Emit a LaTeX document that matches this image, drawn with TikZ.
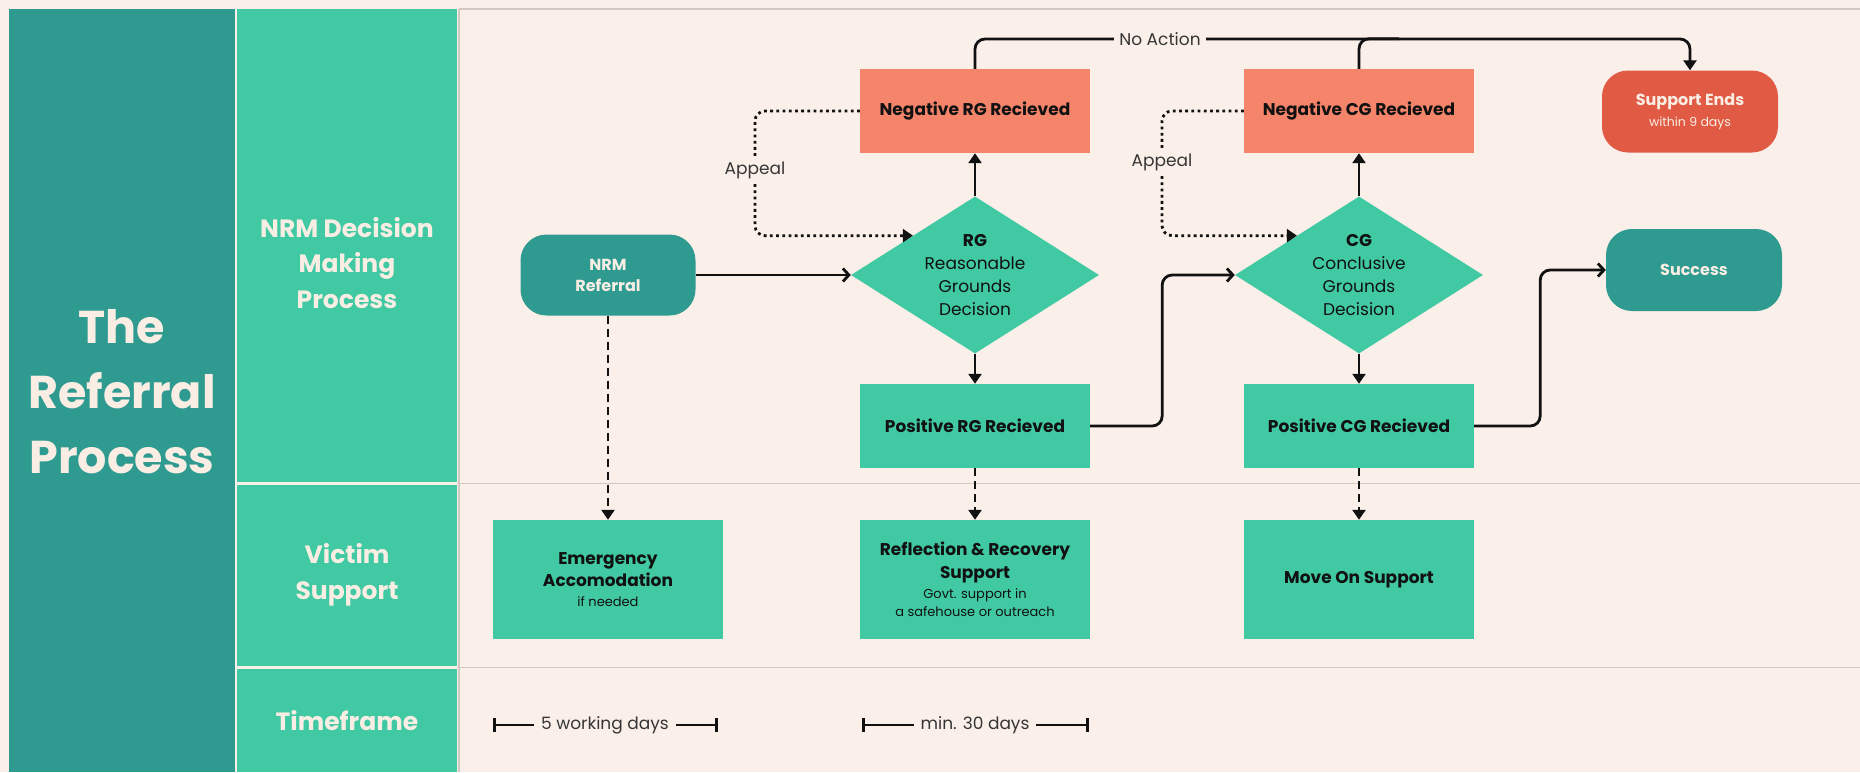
\documentclass[tikz,border=0pt]{standalone}
\usepackage{fontspec}
\setmainfont{Poppins}
\usetikzlibrary{positioning,arrows.meta,shapes.geometric,calc}
\definecolor{cream}{HTML}{FBF0E9}
\definecolor{creamText}{HTML}{FAEEE4}
\definecolor{darkTeal}{HTML}{2E9A90}
\definecolor{mint}{HTML}{40C9A2}
\definecolor{salmon}{HTML}{F4846A}
\definecolor{coral}{HTML}{E05A44}
\definecolor{ink}{HTML}{111111}
\definecolor{gridGrey}{HTML}{D2C7C1}

\begin{document}
\begin{tikzpicture}[
    x=1pt, y=-1pt,
    laneCell/.style={rectangle, fill=mint, minimum width=220pt, inner sep=0pt},
    laneText/.style={text=creamText, font=\fontsize{25}{35.5}\selectfont\bfseries, align=center},
    stepBox/.style={rectangle, fill=mint, minimum width=230pt, minimum height=84pt, text=ink, align=center, font=\fontsize{17}{23}\selectfont\bfseries},
    negBox/.style={stepBox, fill=salmon},
    endBox/.style={rectangle, rounded corners=26pt, fill=darkTeal, text=creamText, minimum width=176pt, minimum height=82pt, align=center, font=\fontsize{16}{21}\selectfont\bfseries},
    decisionBox/.style={diamond, aspect=1.58, fill=mint, minimum width=248pt, minimum height=157pt, inner sep=0pt, text=ink, align=center, font=\fontsize{17}{23}\selectfont},
    noteText/.style={fill=cream, text=ink!85, font=\fontsize{17}{20}\selectfont, inner sep=5pt},
    arrowStyle/.style={-{Triangle[length=10pt,width=13pt]}, line width=2.8pt, draw=ink, rounded corners=10pt},
    barbArrow/.style={arrowStyle, -{Straight Barb[length=6pt,width=13pt,line width=2.8pt]}},
    dashArrow/.style={arrowStyle, dash pattern=on 8pt off 5pt},
    appealArrow/.style={arrowStyle, dash pattern=on 2.8pt off 3.4pt},
    tfLine/.style={{Bar[width=14pt,line width=2.8pt]}-{Bar[width=14pt,line width=2.8pt]}, line width=2.8pt, draw=ink},
    gridLine/.style={draw=gridGrey, line width=1.5pt}
]
    \fill[cream] (0,0) rectangle (1860,772);
    \useasboundingbox (0,0) rectangle (1860,772);

    % swimlane frame
    \draw[gridLine] (459,9) -- (1860,9);
    \draw[gridLine] (459,9) -- (459,772);
    \draw[gridLine] (457,483.5) -- (1860,483.5);
    \draw[gridLine] (457,667.5) -- (1860,667.5);

    \node[rectangle, fill=darkTeal, minimum width=226pt, minimum height=763pt, inner sep=0pt] (titleCol) at (122,390.5) {};
    \node[text=creamText, font=\fontsize{46}{65}\selectfont\bfseries, align=center] (title) at (122,392) {The\\Referral\\Process};

    \node[laneCell, minimum height=473pt] (nrmLane) at (347,245.5) {};
    \node[laneCell, minimum height=181pt] (victimLane) at (347,575.5) {};
    \node[laneCell, minimum height=103pt] (timeLane) at (347,720.5) {};
    \node[laneText] (nrmLbl) at (347,263) {NRM Decision\\Making\\Process};
    \node[laneText] (victimLbl) at (347,575) {Victim\\Support};
    \node[laneText] (timeLbl) at (347,721) {Timeframe};

    % decision flow
    \node[endBox, minimum width=175pt, minimum height=81pt] (referral) at (608,275) {NRM\\Referral};
    \node[decisionBox] (rg) at (975,275) {\textbf{RG}\\Reasonable\\Grounds\\Decision};
    \node[negBox] (negRg) at (975,111) {Negative RG Recieved};
    \node[stepBox] (posRg) at (975,426) {Positive RG Recieved};
    \node[decisionBox] (cg) at (1359,275) {\textbf{CG}\\Conclusive\\Grounds\\Decision};
    \node[negBox] (negCg) at (1359,111) {Negative CG Recieved};
    \node[stepBox] (posCg) at (1359,426) {Positive CG Recieved};
    \node[endBox, fill=coral] (supEnd) at (1690,111.5) {Support Ends\\{\fontsize{12.5}{16}\selectfont\mdseries within 9 days}};
    \node[endBox] (success) at (1694,270) {Success};

    % victim support
    \node[stepBox, minimum height=119pt] (emerg) at (608,579.5) {Emergency\\[-1pt]Accomodation\\[-3pt]{\fontsize{13}{17}\selectfont\mdseries if needed}};
    \node[stepBox, minimum height=119pt] (refl) at (975,579.5) {Reflection \& Recovery\\Support\\[-3pt]{\fontsize{13}{17}\selectfont\mdseries Govt. support in}\\[-5pt]{\fontsize{13}{17}\selectfont\mdseries a safehouse or outreach}};
    \node[stepBox, minimum height=119pt] (moveOn) at (1359,579.5) {Move On Support};

    \draw[barbArrow] (referral) -- (rg);
    \draw[arrowStyle] (rg) -- (negRg);
    \draw[arrowStyle] (rg) -- (posRg);
    \draw[arrowStyle] (cg) -- (negCg);
    \draw[arrowStyle] (cg) -- (posCg);
    \draw[barbArrow] (posRg.east) -- ++(72,0) |- (cg.west);
    \draw[barbArrow] (posCg.east) -- ++(66,0) |- (success.west);
    \draw[dashArrow] (referral) -- (emerg);
    \draw[dashArrow] (posRg) -- (refl);
    \draw[dashArrow] (posCg) -- (moveOn);

    % appeals
    \coordinate (rgLoop) at (755,170);
    \coordinate (cgLoop) at (1162,162);
    \draw[appealArrow] (negRg.west) -| (rgLoop) |- (rg.north west);
    \draw[appealArrow] (negCg.west) -| (cgLoop) |- (cg.north west);
    \node[noteText] (rgAppeal) at (rgLoop) {Appeal};
    \node[noteText] (cgAppeal) at (cgLoop) {Appeal};

    % no action
    \coordinate (noActTurn) at (1690,39);
    \draw[arrowStyle] (negRg.north) |- (noActTurn) -- (supEnd.north);
    \draw[arrowStyle, -] (negCg.north) |- ++(40,-30);
    \node[noteText] (noAction) at (1160,39) {No Action};

    % timeframe
    \coordinate (tfA) at (493,725);
    \coordinate (tfB) at (718,725);
    \coordinate (tfC) at (862,725);
    \coordinate (tfD) at (1089,725);
    \draw[tfLine] (tfA) -- (tfB);
    \draw[tfLine] (tfC) -- (tfD);
    \node[noteText, inner xsep=7pt] (tfFive) at (605,725) {5 working days};
    \node[noteText, inner xsep=7pt] (tfThirty) at (975,725) {min. 30 days};
\end{tikzpicture}
\end{document}
